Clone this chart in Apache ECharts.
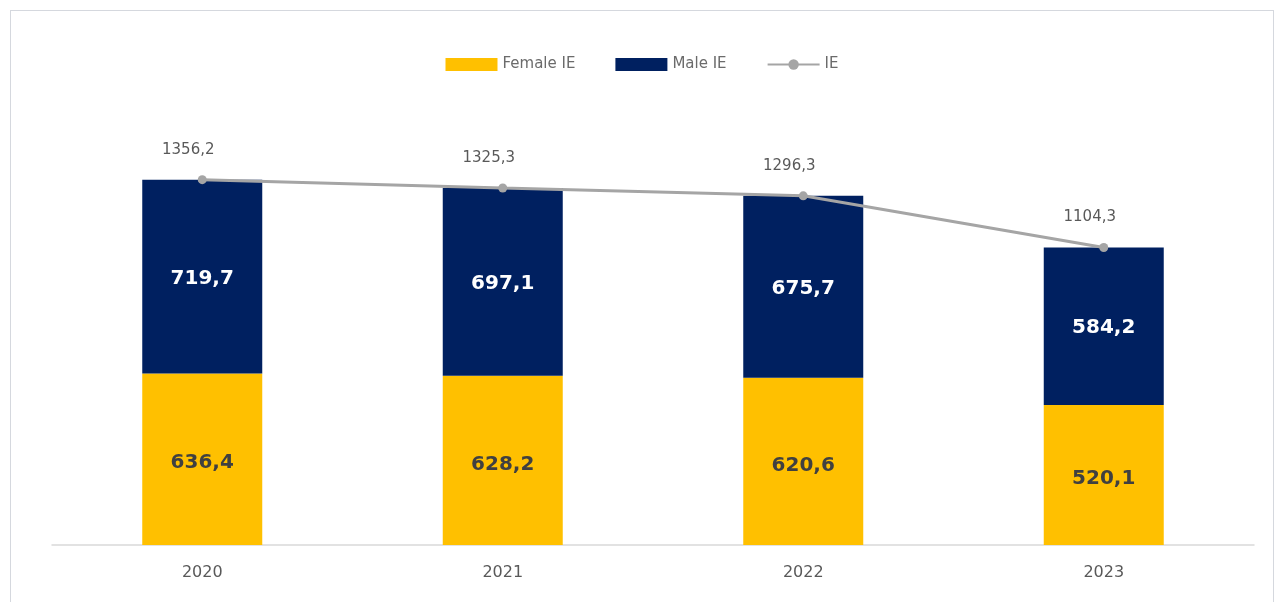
<!DOCTYPE html>
<html>
<head>
<meta charset="utf-8">
<script src="https://cdn.jsdelivr.net/npm/echarts@6/dist/echarts.min.js"></script>
<style>
  html, body { margin: 0; padding: 0; background: #fff; }
  #frame { position: absolute; left: 10px; top: 10px; width: 1264px; height: 620px; border: 1px solid #d5d8de; box-sizing: border-box; }
  #chart { position: absolute; left: 0; top: 0; width: 1284px; height: 602px; }
</style>
</head>
<body>
<div id="frame"></div>
<div id="chart"></div>
<script>
const years = ['2020', '2021', '2022', '2023'];
const femaleIE = [636.4, 628.2, 620.6, 520.1];
const maleIE = [719.7, 697.1, 675.7, 584.2];
const totalIE = [1356.2, 1325.3, 1296.3, 1104.3];

// Decimal comma, one digit
const fmt = v => v.toFixed(1).replace('.', ',');

const chart = echarts.init(document.getElementById('chart'));
chart.setOption({
  animation: false,
  textStyle: { fontFamily: 'DejaVu Sans, Verdana, sans-serif' },
  legend: {
    top: 52,
    left: 'center',
    itemGap: 40,
    itemWidth: 52,
    itemHeight: 13,
    textStyle: { color: '#6b6b6b', fontSize: 15 },
    data: [
      { name: 'Female IE', icon: 'rect' },
      { name: 'Male IE', icon: 'rect' },
      { name: 'IE' }
    ]
  },
  grid: { left: 52, right: 30, top: 114, bottom: 57 },
  xAxis: {
    type: 'category',
    data: years,
    axisLine: { lineStyle: { color: '#d9d9d9', width: 1.5 } },
    axisTick: { show: false },
    axisLabel: { color: '#595959', fontSize: 16, margin: 20 }
  },
  yAxis: {
    type: 'value',
    min: 0,
    max: 1600,
    show: false,
    splitLine: { show: false }
  },
  series: [
    {
      name: 'Female IE',
      type: 'bar',
      stack: 'ie',
      barWidth: 120,
      data: femaleIE,
      itemStyle: { color: '#FFC000' },
      label: {
        show: true,
        position: 'inside',
        offset: [0, 4],
        color: '#404040',
        fontSize: 20,
        fontWeight: 'bold',
        formatter: p => fmt(p.value)
      }
    },
    {
      name: 'Male IE',
      type: 'bar',
      stack: 'ie',
      barWidth: 120,
      data: maleIE,
      itemStyle: { color: '#002060' },
      label: {
        show: true,
        position: 'inside',
        offset: [0, 2],
        color: '#ffffff',
        fontSize: 20,
        fontWeight: 'bold',
        formatter: p => fmt(p.value)
      }
    },
    {
      name: 'IE',
      type: 'line',
      data: totalIE,
      symbol: 'circle',
      symbolSize: 9,
      z: 5,
      lineStyle: { color: '#A5A5A5', width: 3 },
      itemStyle: { color: '#A5A5A5' },
      label: {
        show: true,
        position: 'top',
        distance: 18,
        offset: [-14, 0],
        color: '#595959',
        fontSize: 15,
        formatter: p => fmt(p.value)
      }
    }
  ]
});
</script>
</body>
</html>
